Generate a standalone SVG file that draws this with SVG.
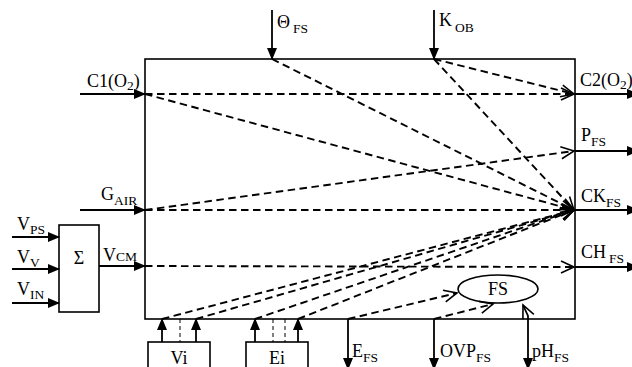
<svg xmlns="http://www.w3.org/2000/svg" width="632" height="367" viewBox="0 0 632 367">
<defs>
<marker id="fill" markerUnits="userSpaceOnUse" markerWidth="12" markerHeight="10" refX="11" refY="5" orient="auto">
<path d="M0,0 L12,5 L0,10 Z" fill="#000"/>
</marker>
<marker id="open" markerUnits="userSpaceOnUse" markerWidth="16" markerHeight="14" refX="14" refY="7" orient="auto">
<path d="M1,1 L14,7 L1,13" fill="none" stroke="#000" stroke-width="1.6"/>
</marker>
<style>
.box{fill:#fff;stroke:#000;stroke-width:1.6}
.sol{fill:none;stroke:#000;stroke-width:1.8;marker-end:url(#fill)}
.dsh{fill:none;stroke:#000;stroke-width:1.9;stroke-dasharray:7.5,4.5;marker-end:url(#open)}
.thin{fill:none;stroke:#000;stroke-width:1;stroke-dasharray:4,3}
text{font-family:"Liberation Serif","Times New Roman",serif;font-size:18px;fill:#000}
.sub{font-size:13.5px}
</style>
</defs>
<rect width="632" height="367" fill="#fff"/>

<g id="main-block">
<rect class="box" x="145" y="59" width="430" height="260"/>
</g>

<g id="sum-block">
<rect class="box" x="59" y="225" width="40" height="87"/>
<text x="79" y="264" text-anchor="middle" font-size="16">Σ</text>
</g>

<g id="vi-block">
<rect class="box" x="148" y="342" width="62" height="30"/>
<text x="179" y="364" text-anchor="middle">Vi</text>
</g>

<g id="ei-block">
<rect class="box" x="246" y="342" width="62" height="30"/>
<text x="277" y="364" text-anchor="middle">Ei</text>
</g>

<g id="fs-node">
<ellipse cx="498" cy="289" rx="40" ry="14" fill="#fff" stroke="#000" stroke-width="1.6"/>
<text x="498" y="295" text-anchor="middle">FS</text>
</g>

<g id="labels">
<text x="277" y="28" font-size="20">Θ<tspan class="sub" dx="3" dy="5">FS</tspan></text>
<text x="439" y="26">K<tspan class="sub" dx="3" dy="6">OB</tspan></text>
<text x="87" y="87">C1(O<tspan class="sub" dy="3">2</tspan><tspan dy="-3">)</tspan></text>
<text x="101" y="200">G<tspan class="sub" dy="5">AIR</tspan></text>
<text x="103" y="261">V<tspan class="sub">CM</tspan></text>
<text x="17" y="230">V<tspan class="sub" dy="4">PS</tspan></text>
<text x="17" y="263">V<tspan class="sub" dy="4">V</tspan></text>
<text x="17" y="295">V<tspan class="sub" dy="4">IN</tspan></text>
<text x="580" y="86" font-size="17">C2(O<tspan class="sub" font-size="12.5" dy="3">2</tspan><tspan dy="-3">)</tspan></text>
<text x="581" y="141">P<tspan class="sub" dy="5">FS</tspan></text>
<text x="581" y="202">CK<tspan class="sub" dy="5">FS</tspan></text>
<text x="581" y="258">CH<tspan class="sub" dx="3" dy="5">FS</tspan></text>
<text x="352" y="357">E<tspan class="sub" dy="5">FS</tspan></text>
<text x="440" y="357">OVP<tspan class="sub" dy="5">FS</tspan></text>
<text x="532" y="357">pH<tspan class="sub" dy="5">FS</tspan></text>
</g>

<g id="connectors">
<line class="sol" x1="272" y1="10" x2="272" y2="59"/>
<line class="sol" x1="434" y1="10" x2="434" y2="59"/>
<line class="sol" x1="80" y1="94" x2="145" y2="94"/>
<line class="sol" x1="80" y1="210" x2="145" y2="210"/>
<line class="sol" x1="99" y1="266" x2="145" y2="266"/>
<line class="sol" x1="12" y1="237" x2="59" y2="237"/>
<line class="sol" x1="12" y1="269" x2="59" y2="269"/>
<line class="sol" x1="12" y1="303" x2="59" y2="303"/>
<line class="sol" x1="162" y1="342" x2="162" y2="319"/>
<line class="sol" x1="196" y1="342" x2="196" y2="319"/>
<line class="sol" x1="255" y1="342" x2="255" y2="319"/>
<line class="sol" x1="298" y1="342" x2="298" y2="319"/>
<line class="thin" x1="180" y1="319" x2="180" y2="342"/>
<line class="thin" x1="273" y1="319" x2="273" y2="342"/>
<line class="thin" x1="285" y1="319" x2="285" y2="342"/>
<line class="sol" x1="575" y1="94" x2="638" y2="94"/>
<line class="sol" x1="575" y1="151" x2="638" y2="151"/>
<line class="sol" x1="575" y1="210" x2="638" y2="210"/>
<line class="sol" x1="575" y1="267" x2="638" y2="267"/>
<line class="sol" x1="348" y1="319" x2="348" y2="369"/>
<line class="sol" x1="434" y1="319" x2="434" y2="369"/>
<line class="sol" x1="528" y1="318" x2="528" y2="369"/>
<path d="M528,320 L528,316 L523,305" fill="none" stroke="#000" stroke-width="1.8" marker-end="url(#open)"/>
<line class="dsh" x1="145" y1="94" x2="574" y2="94"/>
<line class="dsh" x1="145" y1="94" x2="574" y2="210"/>
<line class="dsh" x1="272" y1="59" x2="574" y2="210"/>
<line class="dsh" x1="434" y1="59" x2="574" y2="94"/>
<line class="dsh" x1="434" y1="59" x2="574" y2="210"/>
<line class="dsh" x1="145" y1="210" x2="574" y2="210"/>
<line class="dsh" x1="145" y1="210" x2="574" y2="151"/>
<line class="dsh" x1="145" y1="266" x2="574" y2="267"/>
<line class="dsh" x1="162" y1="319" x2="574" y2="210"/>
<line class="dsh" x1="196" y1="319" x2="574" y2="210"/>
<line class="dsh" x1="255" y1="319" x2="574" y2="210"/>
<line class="dsh" x1="298" y1="319" x2="574" y2="210"/>
<line class="dsh" x1="348" y1="319" x2="457" y2="293"/>
<line class="dsh" x1="434" y1="319" x2="493" y2="304"/>
</g>
</svg>
